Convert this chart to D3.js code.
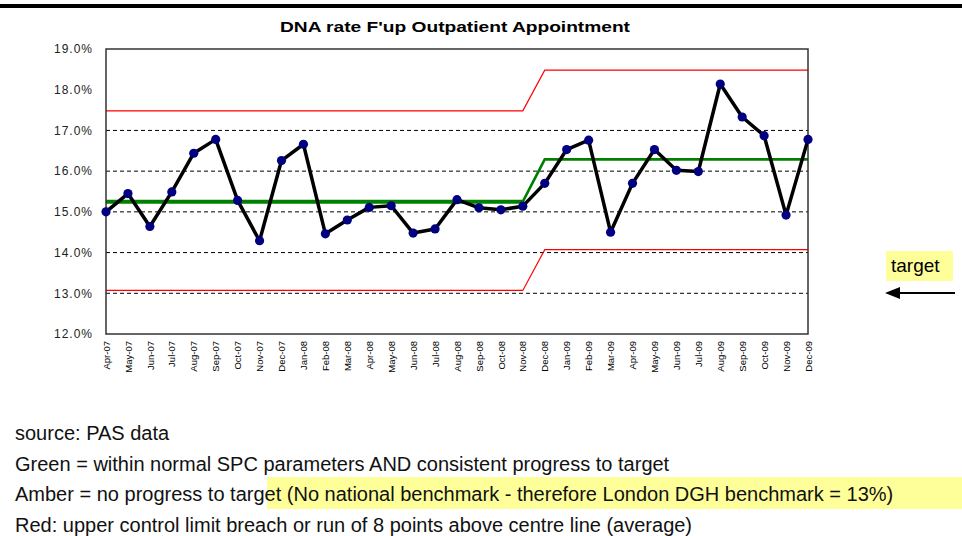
<!DOCTYPE html>
<html>
<head>
<meta charset="utf-8">
<script src="https://cdn.jsdelivr.net/npm/d3@7/dist/d3.min.js"></script>
<style>
  body { margin: 0; background: #fff; }
  svg { display: block; font-family: Arial, "Liberation Sans", sans-serif; }
</style>
</head>
<body>
<svg id="chart" width="962" height="536"></svg>
<script>
// months on the x axis
const months = ["Apr-07","May-07","Jun-07","Jul-07","Aug-07","Sep-07","Oct-07","Nov-07","Dec-07",
  "Jan-08","Feb-08","Mar-08","Apr-08","May-08","Jun-08","Jul-08","Aug-08","Sep-08","Oct-08","Nov-08","Dec-08",
  "Jan-09","Feb-09","Mar-09","Apr-09","May-09","Jun-09","Jul-09","Aug-09","Sep-09","Oct-09","Nov-09","Dec-09"];

// DNA rate (%) per month
const rate = [15.00,15.45,14.64,15.49,16.44,16.78,15.28,14.29,16.26,
  16.66,14.46,14.80,15.11,15.15,14.48,14.58,15.30,15.10,15.05,15.14,15.70,
  16.53,16.76,14.50,15.70,16.53,16.02,15.99,18.14,17.33,16.87,14.92,16.78];

// SPC lines: centre, upper and lower control limits (two periods)
const centre = [15.25,15.25,15.25,15.25,15.25,15.25,15.25,15.25,15.25,
  15.25,15.25,15.25,15.25,15.25,15.25,15.25,15.25,15.25,15.25,15.25,16.29,
  16.29,16.29,16.29,16.29,16.29,16.29,16.29,16.29,16.29,16.29,16.29,16.29];
const ucl = [17.48,17.48,17.48,17.48,17.48,17.48,17.48,17.48,17.48,
  17.48,17.48,17.48,17.48,17.48,17.48,17.48,17.48,17.48,17.48,17.48,18.48,
  18.48,18.48,18.48,18.48,18.48,18.48,18.48,18.48,18.48,18.48,18.48,18.48];
const lcl = [13.07,13.07,13.07,13.07,13.07,13.07,13.07,13.07,13.07,
  13.07,13.07,13.07,13.07,13.07,13.07,13.07,13.07,13.07,13.07,13.07,14.07,
  14.07,14.07,14.07,14.07,14.07,14.07,14.07,14.07,14.07,14.07,14.07,14.07];

const yTicks = [12,13,14,15,16,17,18,19];
const gridValues = [13,14,15,16,17];

const notes = [
  "source: PAS data",
  "Green = within normal SPC parameters AND consistent progress to target",
  "Amber = no progress to target (No national benchmark - therefore London DGH benchmark = 13%)",
  "Red: upper control limit breach or run of 8 points above centre line (average)"
];

const svg = d3.select("#chart");
const margin = { left: 106, right: 154, top: 49, bottom: 202 };
const width = 962, height = 536;

const x = d3.scalePoint()
  .domain(months)
  .range([margin.left, width - margin.right]);

const y = d3.scaleLinear()
  .domain([12, 19])
  .range([height - margin.bottom, margin.top]);

// thick rule at the very top
svg.append("rect")
  .attr("x", 0).attr("y", 4).attr("width", width).attr("height", 4)
  .attr("fill", "#000");

// title
svg.append("text")
  .attr("x", 455).attr("y", 32)
  .attr("text-anchor", "middle")
  .attr("font-size", 15).attr("font-weight", "bold")
  .attr("textLength", 350).attr("lengthAdjust", "spacingAndGlyphs")
  .text("DNA rate F'up Outpatient Appointment");

// dashed grid
svg.append("g")
  .selectAll("line")
  .data(gridValues)
  .join("line")
  .attr("x1", margin.left).attr("x2", width - margin.right)
  .attr("y1", d => y(d)).attr("y2", d => y(d))
  .attr("stroke", "#000").attr("stroke-width", 1)
  .attr("stroke-dasharray", "4,3");

// y axis
const yAxis = svg.append("g")
  .attr("transform", `translate(${margin.left},0)`)
  .call(d3.axisLeft(y).tickValues(yTicks).tickSize(0).tickPadding(13)
    .tickFormat(d => d3.format(".1f")(d) + "%"));
yAxis.select(".domain").remove();
yAxis.selectAll("text")
  .attr("font-size", 12).attr("fill", "#222")
  .attr("letter-spacing", 1)
  .attr("font-family", "Arial, 'Liberation Sans', sans-serif");

// x axis labels, rotated
const xAxis = svg.append("g")
  .attr("transform", `translate(0,${height - margin.bottom})`)
  .call(d3.axisBottom(x).tickSize(0).tickPadding(0));
xAxis.select(".domain").remove();
xAxis.selectAll("text")
  .attr("font-size", 9.5).attr("fill", "#000")
  .attr("font-family", "Arial, 'Liberation Sans', sans-serif")
  .attr("text-anchor", "end")
  .attr("transform", "rotate(-90)")
  .attr("x", -7).attr("y", 0).attr("dy", "0.33em");

// control limits
const lineGen = d3.line().x((d, i) => x(months[i])).y(d => y(d));
[ucl, lcl].forEach(series => {
  svg.append("path")
    .attr("d", lineGen(series))
    .attr("fill", "none").attr("stroke", "#ff0000").attr("stroke-width", 1.2);
});

// centre line: thicker first period, thinner second
const split = months.indexOf("Nov-08");
svg.append("path")
  .attr("d", d3.line().x((d, i) => x(months[i])).y(d => y(d))(centre.slice(0, split + 1)))
  .attr("fill", "none").attr("stroke", "#008000").attr("stroke-width", 4);
svg.append("path")
  .attr("d", d3.line().x((d, i) => x(months[i + split])).y(d => y(d))(centre.slice(split)))
  .attr("fill", "none").attr("stroke", "#008000").attr("stroke-width", 2.6);

// plot frame
svg.append("rect")
  .attr("x", margin.left).attr("y", margin.top)
  .attr("width", width - margin.left - margin.right)
  .attr("height", height - margin.top - margin.bottom)
  .attr("fill", "none").attr("stroke", "#333").attr("stroke-width", 1.5);

// data line and markers
svg.append("path")
  .attr("d", lineGen(rate))
  .attr("fill", "none").attr("stroke", "#000").attr("stroke-width", 3.5)
  .attr("stroke-linejoin", "round");

svg.append("g")
  .selectAll("circle")
  .data(rate)
  .join("circle")
  .attr("cx", (d, i) => x(months[i]))
  .attr("cy", d => y(d))
  .attr("r", 4.6)
  .attr("fill", "#000080");

// target label + arrow
svg.append("rect")
  .attr("x", 886).attr("y", 251).attr("width", 67).attr("height", 30)
  .attr("fill", "#ffff99");
svg.append("text")
  .attr("x", 891).attr("y", 272)
  .attr("font-size", 19)
  .text("target");
svg.append("line")
  .attr("x1", 897).attr("x2", 955).attr("y1", 293).attr("y2", 293)
  .attr("stroke", "#000").attr("stroke-width", 2);
svg.append("path")
  .attr("d", "M885,293 L900,287 L900,299 Z")
  .attr("fill", "#000");

// notes under the chart
svg.append("rect")
  .attr("x", 267).attr("y", 477).attr("width", width - 267).attr("height", 32)
  .attr("fill", "#ffff99");
svg.append("g")
  .selectAll("text")
  .data(notes)
  .join("text")
  .attr("x", 15)
  .attr("y", (d, i) => 440 + i * 30.5)
  .attr("font-size", 20)
  .attr("fill", "#111")
  .text(d => d);
</script>
</body>
</html>
